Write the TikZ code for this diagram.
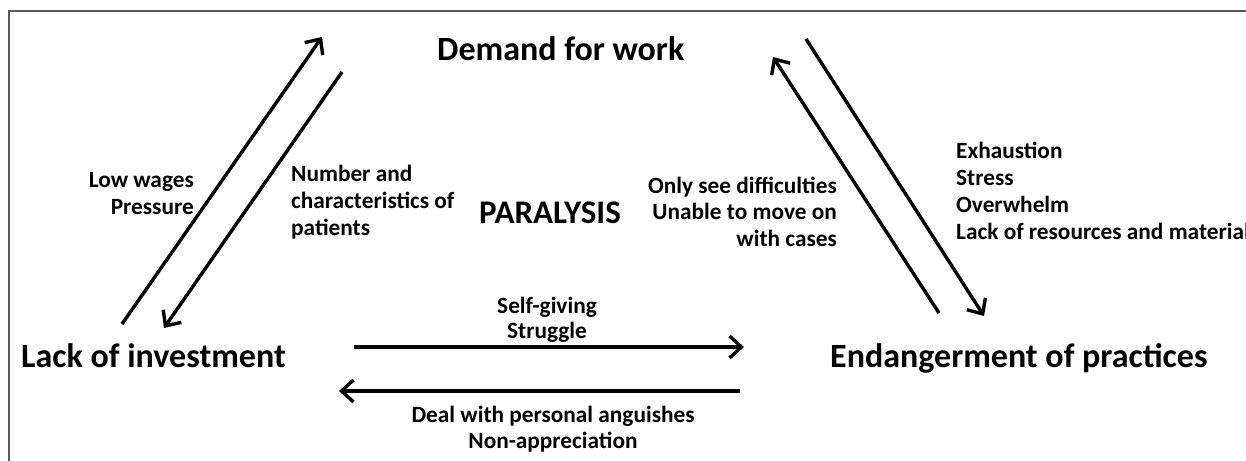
\documentclass[tikz,border=0pt]{standalone}
\usepackage{fontspec}
\setmainfont{Carlito}
\usetikzlibrary{arrows.meta}
\begin{document}
\begin{tikzpicture}[x=1pt,y=-1pt,
  big/.style={font=\fontsize{34}{40}\selectfont\bfseries, inner sep=0pt},
  para/.style={font=\fontsize{33}{38}\selectfont\bfseries, inner sep=0pt},
  lab/.style={font=\fontsize{23.3}{27}\selectfont\bfseries, inner sep=0pt},
  arr/.style={line width=3.4pt, -{Straight Barb[length=12pt,width=22pt]}},
  frame/.style={line width=1.3pt, draw=black!65}]
\clip (0,0) rectangle (1246,460);
\fill[white] (0,0) rectangle (1246,460);
% frame (top and left only visible)
\draw[frame] (9,470) -- (9,11) -- (1256,11);
% main nodes
\node[big, anchor=base west] (demand) at (437,60) {Demand for work};
\node[big, anchor=base west] (lack) at (21,367) {Lack of investment};
\node[big, anchor=base west] (endanger) at (830,367) {Endangerment of practices};
\node[para, anchor=base west] (paralysis) at (479,223) {PARALYSIS};
% labels (anchor = baseline of last line)
\node[lab, font=\fontsize{23.3}{27}\selectfont\bfseries, align=right, anchor=base east] (lowwages) at (194,214) {Low wages\\Pressure};
\node[lab, font=\fontsize{23.3}{27}\selectfont\bfseries, align=left, anchor=base west] (number) at (291,235) {Number and\\characteristics of\\patients};
\node[lab, font=\fontsize{23.3}{26.5}\selectfont\bfseries, align=right, anchor=base east] (onlysee) at (837,246) {Only see difficulties\\Unable to move on\\with cases};
\node[lab, font=\fontsize{23.3}{27}\selectfont\bfseries, align=left, anchor=base west] (exhaust) at (956,239) {Exhaustion\\Stress\\Overwhelm\\Lack of resources and material};
\node[lab, font=\fontsize{23.3}{25}\selectfont\bfseries, align=center, anchor=base] (selfgiving) at (547,338) {Self-giving\\Struggle};
\node[lab, font=\fontsize{23.3}{26}\selectfont\bfseries, align=center, anchor=base] (deal) at (553,448) {Deal with personal anguishes\\Non-appreciation};
% arrow end points
\coordinate (luS) at (122,324); \coordinate (luE) at (322,37);
\coordinate (ldS) at (342,72);  \coordinate (ldE) at (164,328);
\coordinate (ruS) at (939,313); \coordinate (ruE) at (773,57);
\coordinate (rdS) at (806,39);  \coordinate (rdE) at (984,316);
\coordinate (brS) at (354,347); \coordinate (brE) at (744,347);
\coordinate (blS) at (740,391); \coordinate (blE) at (339,391);
\draw[arr] (luS) -- (luE);
\draw[arr] (ldS) -- (ldE);
\draw[arr] (ruS) -- (ruE);
\draw[arr] (rdS) -- (rdE);
\draw[arr] (brS) -- (brE);
\draw[arr] (blS) -- (blE);
\end{tikzpicture}
\end{document}
